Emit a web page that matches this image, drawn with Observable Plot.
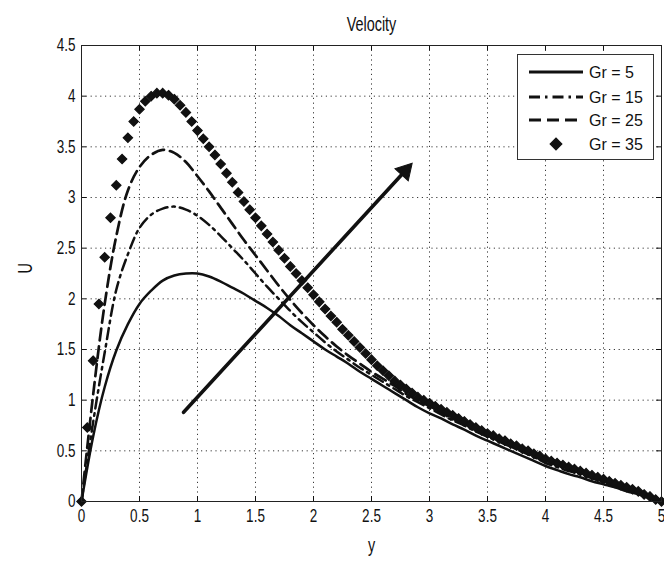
<!DOCTYPE html>
<html>
<head>
<meta charset="utf-8">
<script src="https://cdn.jsdelivr.net/npm/d3@7"></script>
<script src="https://cdn.jsdelivr.net/npm/@observablehq/plot@0.6"></script>
<style>
  html, body { margin: 0; padding: 0; background: #fff; }
  #wrap { position: relative; width: 664px; height: 562px; }
  #legend { position: absolute; left: 517px; top: 54px; width: 137px; height: 106px;
            border: 1px solid #333; background: #fff; box-sizing: border-box; }
</style>
</head>
<body>
<div id="wrap"></div>
<script>
// ---------- data ----------
const titleText = ["Velocity"];
const xLabelText = ["y"];
const yLabelText = ["U"];
const seriesNames = ["Gr = 5", "Gr = 15", "Gr = 25", "Gr = 35"];

const xTicks = [0, 0.5, 1, 1.5, 2, 2.5, 3, 3.5, 4, 4.5, 5];
const yTicks = [0, 0.5, 1, 1.5, 2, 2.5, 3, 3.5, 4, 4.5];

// sample positions for the line series (step 0.1)
const yLine = [0,0.1,0.2,0.3,0.4,0.5,0.6,0.7,0.8,0.9,1.0,1.1,1.2,1.3,1.4,1.5,1.6,1.7,1.8,1.9,2.0,
  2.1,2.2,2.3,2.4,2.5,2.6,2.7,2.8,2.9,3.0,3.1,3.2,3.3,3.4,3.5,3.6,3.7,3.8,3.9,4.0,
  4.1,4.2,4.3,4.4,4.5,4.6,4.7,4.8,4.9,5.0];

const uGr5 = [0,0.64,1.13,1.49,1.75,1.95,2.08,2.18,2.23,2.25,2.25,2.22,2.17,2.11,2.05,1.98,1.91,1.83,1.74,1.66,1.58,
  1.50,1.43,1.36,1.28,1.21,1.14,1.07,1.00,0.93,0.87,0.82,0.76,0.71,0.65,0.60,0.55,0.50,0.45,0.40,0.35,
  0.31,0.27,0.24,0.20,0.17,0.14,0.10,0.07,0.03,0];

const uGr15 = [0,0.78,1.47,2.09,2.44,2.70,2.83,2.89,2.91,2.88,2.82,2.73,2.62,2.50,2.38,2.25,2.12,2.00,1.88,1.77,1.67,
  1.57,1.48,1.40,1.32,1.25,1.18,1.11,1.04,0.98,0.92,0.86,0.80,0.75,0.69,0.64,0.59,0.54,0.49,0.44,0.38,
  0.34,0.30,0.27,0.23,0.19,0.15,0.11,0.08,0.04,0];

const uGr25 = [0,1.05,1.95,2.62,3.07,3.30,3.42,3.47,3.44,3.35,3.21,3.06,2.90,2.74,2.58,2.43,2.28,2.13,1.99,1.86,1.74,
  1.63,1.53,1.44,1.36,1.28,1.21,1.14,1.06,1.00,0.94,0.88,0.82,0.76,0.71,0.65,0.60,0.55,0.50,0.45,0.40,
  0.36,0.32,0.28,0.24,0.20,0.16,0.12,0.08,0.04,0];

// sample positions for the marker series (step 0.05)
const yDot = [0,0.05,0.1,0.15,0.2,0.25,0.3,0.35,0.4,0.45,0.5,0.55,0.6,0.65,0.7,0.75,0.8,0.85,0.9,0.95,
  1.0,1.05,1.1,1.15,1.2,1.25,1.3,1.35,1.4,1.45,1.5,1.55,1.6,1.65,1.7,1.75,1.8,1.85,1.9,1.95,
  2.0,2.05,2.1,2.15,2.2,2.25,2.3,2.35,2.4,2.45,2.5,2.55,2.6,2.65,2.7,2.75,2.8,2.85,2.9,2.95,
  3.0,3.05,3.1,3.15,3.2,3.25,3.3,3.35,3.4,3.45,3.5,3.55,3.6,3.65,3.7,3.75,3.8,3.85,3.9,3.95,
  4.0,4.05,4.1,4.15,4.2,4.25,4.3,4.35,4.4,4.45,4.5,4.55,4.6,4.65,4.7,4.75,4.8,4.85,4.9,4.95,5.0];

const uGr35 = [0,0.73,1.39,1.95,2.41,2.80,3.12,3.38,3.59,3.75,3.87,3.95,4.00,4.03,4.03,4.01,3.97,3.91,3.84,3.75,
  3.66,3.58,3.50,3.42,3.33,3.24,3.15,3.05,2.96,2.88,2.80,2.72,2.64,2.56,2.48,2.40,2.32,2.25,2.18,2.11,
  2.04,1.97,1.90,1.83,1.77,1.70,1.64,1.58,1.52,1.46,1.40,1.34,1.29,1.24,1.19,1.15,1.11,1.07,1.03,1.00,
  0.97,0.94,0.91,0.88,0.85,0.82,0.79,0.76,0.73,0.70,0.67,0.65,0.62,0.60,0.57,0.55,0.52,0.50,0.47,0.45,
  0.42,0.40,0.38,0.36,0.34,0.32,0.30,0.28,0.26,0.24,0.22,0.20,0.18,0.16,0.14,0.12,0.10,0.07,0.05,0.02,0];

// annotation arrow (data coordinates)
const arrowData = [{x1: 0.88, y1: 0.88, x2: 2.82, y2: 3.30}];

// ---------- build ----------
const W = 664, H = 562;
const mL = 81, mR = 3, mT = 45, mB = 61;
const plotW = W - mL - mR, plotH = H - mT - mB;

const line5 = yLine.map((v, i) => ({y: v, u: uGr5[i]}));
const line15 = yLine.map((v, i) => ({y: v, u: uGr15[i]}));
const line25 = yLine.map((v, i) => ({y: v, u: uGr25[i]}));
const dots35 = yDot.map((v, i) => ({y: v, u: uGr35[i]}));

const sans = "'Liberation Sans', Arial, Helvetica, sans-serif";
const ink = "#111";
const dashes = [null, "11,5,2.5,5", "12,6", null];

// arrow head orientation in screen space
const a0 = arrowData[0];
const dxp = (a0.x2 - a0.x1) / 5 * plotW;
const dyp = (a0.y2 - a0.y1) / 4.5 * plotH;
const headAng = Math.atan2(dxp, dyp) * 180 / Math.PI;
const headSize = 140;                              // symbol area
const headTip = 2 * Math.sqrt(headSize / (3 * Math.sqrt(3)));
const rad = headAng * Math.PI / 180;

const chart = Plot.plot({
  width: W, height: H,
  marginLeft: mL, marginRight: mR, marginTop: mT, marginBottom: mB,
  x: {domain: [0, 5]},
  y: {domain: [0, 4.5]},
  style: {fontFamily: sans, fontSize: "15px", color: ink, background: "#fff", overflow: "visible"},
  marks: [
    Plot.gridX(xTicks, {stroke: "#222", strokeOpacity: 0.9, strokeDasharray: "1.2,3.6"}),
    Plot.gridY(yTicks, {stroke: "#222", strokeOpacity: 0.9, strokeDasharray: "1.2,3.6"}),
    Plot.axisX(xTicks, {tickSize: 0, tickPadding: 8, tickFormat: d => String(d), label: null, fontSize: 15}),
    Plot.axisY(yTicks, {tickSize: 0, tickPadding: 6, tickFormat: d => String(d), label: null, fontSize: 15}),
    // inward ticks on all four sides
    Plot.ruleX(xTicks, {insetTop: plotH - 5, stroke: ink}),
    Plot.ruleX(xTicks, {insetBottom: plotH - 5, stroke: ink}),
    Plot.ruleY(yTicks, {insetRight: plotW - 5, stroke: ink}),
    Plot.ruleY(yTicks, {insetLeft: plotW - 5, stroke: ink}),
    Plot.lineY(line5, {x: "y", y: "u", stroke: ink, strokeWidth: 2.5, curve: "catmull-rom"}),
    Plot.lineY(line15, {x: "y", y: "u", stroke: ink, strokeWidth: 2.5, curve: "catmull-rom", strokeDasharray: dashes[1]}),
    Plot.lineY(line25, {x: "y", y: "u", stroke: ink, strokeWidth: 2.7, curve: "catmull-rom", strokeDasharray: dashes[2]}),
    Plot.dot(dots35, {x: "y", y: "u", symbol: "diamond2", r: 4.2, fill: ink, stroke: ink, strokeWidth: 1.2}),
    Plot.arrow(arrowData, {x1: "x1", y1: "y1", x2: "x2", y2: "y2", stroke: ink, strokeWidth: 3.6,
                           headLength: 0, insetEnd: headTip * 0.9}),
    Plot.dot(arrowData, {x: "x2", y: "y2", symbol: "triangle", r: Math.sqrt(headSize / Math.PI),
                         rotate: headAng, fill: ink, stroke: ink, strokeWidth: 1,
                         dx: -Math.sin(rad) * headTip / 2, dy: Math.cos(rad) * headTip / 2}),
    Plot.frame({stroke: "#222", strokeWidth: 1}),
    Plot.text(titleText, {text: d => d, frameAnchor: "top", dy: -28, fontSize: 16}),
    Plot.text(xLabelText, {text: d => d, frameAnchor: "bottom", dy: 50, fontSize: 16}),
    Plot.text(yLabelText, {text: d => d, frameAnchor: "left", dx: -56, rotate: -90, fontSize: 16})
  ]
});

// MATLAB-like tall, narrow lettering: scale each text about its own anchor
const isNum = v => v !== null && /^-?\d*\.?\d+$/.test(v.trim());
d3.select(chart).selectAll("text").each(function () {
  const x = this.getAttribute("x"), y = this.getAttribute("y");
  let pre = "";
  if (isNum(x) || isNum(y)) {
    pre = `translate(${isNum(x) ? x : 0},${isNum(y) ? y : 0}) `;
    if (isNum(x)) this.removeAttribute("x");
    if (isNum(y)) this.removeAttribute("y");
  }
  const t = this.getAttribute("transform") || "";
  this.setAttribute("transform", (pre + t + " scale(0.9,1.22)").trim());
});

const wrap = document.getElementById("wrap");
wrap.appendChild(chart);

// legend box
const legend = document.createElement("div");
legend.id = "legend";
wrap.appendChild(legend);
const lsvg = d3.select(legend).append("svg").attr("width", 135).attr("height", 104)
  .style("font-family", sans).style("font-size", "16px");
const rowY = [17, 42, 65, 89];
seriesNames.forEach((name, i) => {
  const g = lsvg.append("g").attr("transform", `translate(0,${rowY[i]})`);
  if (i < 3) {
    g.append("line").attr("x1", 11).attr("x2", 65).attr("y1", 0).attr("y2", 0)
      .attr("stroke", ink).attr("stroke-width", 3)
      .attr("stroke-dasharray", dashes[i]);
  } else {
    g.append("path").attr("d", d3.symbol(d3.symbolDiamond2, 80)())
      .attr("transform", "translate(38,0)").attr("fill", ink).attr("stroke", ink).attr("stroke-width", 1.5);
  }
  g.append("text").attr("x", 71).attr("y", 6).attr("fill", ink).text(name);
});
</script>
</body>
</html>
